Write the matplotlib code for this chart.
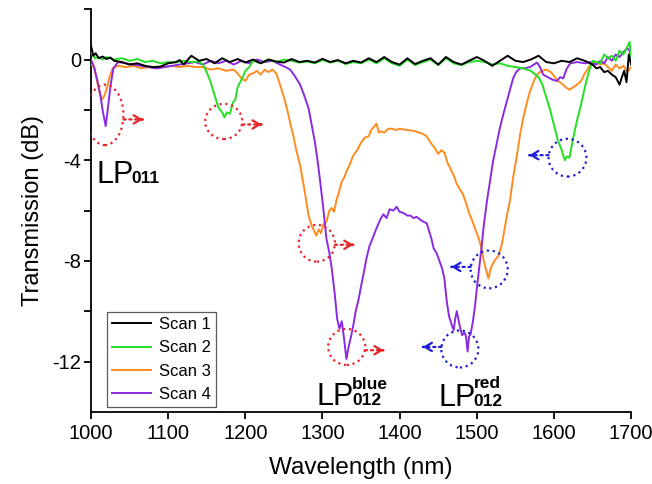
import matplotlib.pyplot as plt
from matplotlib.patches import Ellipse

plt.rcParams['font.family'] = ['Liberation Sans', 'DejaVu Sans']
plt.rcParams['axes.unicode_minus'] = False

# ---- data ----
x_scan1 = [1000, 1003, 1006, 1010, 1015, 1020, 1025, 1030, 1040, 1050, 1060, 1070, 1080, 1090,
           1100, 1110, 1115, 1120, 1130, 1140, 1150, 1160, 1170, 1180, 1190, 1200, 1210, 1220,
           1230, 1240, 1250, 1260, 1270, 1280, 1290, 1300, 1310, 1320, 1330, 1340, 1350, 1360,
           1370, 1380, 1390, 1400, 1410, 1420, 1430, 1440, 1450, 1460, 1470, 1480, 1490, 1500,
           1510, 1520, 1530, 1540, 1550, 1560, 1570, 1580, 1590, 1600, 1610, 1620, 1630, 1640,
           1650, 1655, 1660, 1665, 1670, 1675, 1680, 1685, 1688, 1691, 1694, 1697, 1700]
y_scan1 = [0.55, 0.15, 0.25, 0.05, 0.12, 0.02, 0.08, -0.05, -0.1, -0.2, -0.15, -0.25, -0.3, -0.28,
           -0.15, -0.1, -0.02, -0.2, 0.15, -0.05, 0.02, -0.15, 0.05, -0.1, 0.02, -0.12, 0.0, -0.15,
           0.0, -0.08, -0.12, 0.02, -0.1, -0.05, -0.12, 0.03, -0.1, -0.02, -0.15, -0.05, -0.12, 0.05,
           -0.1, 0.1, -0.1, -0.2, 0.05, -0.18, -0.05, 0.05, -0.2, 0.1, -0.1, -0.2, -0.05, 0.1,
           -0.05, -0.25, -0.05, 0.15, -0.05, -0.1, 0.0, 0.15, -0.1, -0.15, -0.05, -0.1, 0.05, -0.05,
           -0.2, -0.35, -0.3, -0.5, -0.45, -0.6, -0.7, -1.0, -0.7, -0.45, -0.9, 0.2, -0.2]

x_scan2 = [1000, 1005, 1010, 1015, 1020, 1030, 1040, 1050, 1060, 1070, 1080, 1090, 1100, 1110,
           1120, 1130, 1140, 1145, 1150, 1155, 1160, 1165, 1170, 1173, 1176, 1180, 1184, 1187,
           1190, 1195, 1200, 1205, 1210, 1220, 1230, 1240, 1250, 1260, 1270, 1280, 1290, 1300,
           1310, 1320, 1330, 1340, 1350, 1360, 1370, 1380, 1390, 1400, 1410, 1420, 1430, 1440,
           1450, 1460, 1470, 1480, 1490, 1500, 1510, 1520, 1530, 1540, 1550, 1560, 1570, 1580,
           1585, 1590, 1595, 1600, 1605, 1610, 1614, 1617, 1620, 1625, 1630, 1635, 1640, 1645,
           1650, 1655, 1660, 1665, 1670, 1675, 1680, 1685, 1690, 1695, 1698, 1700]
y_scan2 = [0.3, 0.05, 0.1, 0.0, 0.1, 0.0, 0.05, -0.05, 0.02, -0.1, -0.05, -0.15, -0.1, -0.12,
           -0.05, -0.1, -0.08, -0.2, -0.5, -0.9, -1.4, -1.9, -2.1, -2.3, -2.1, -2.15, -1.7, -1.6,
           -1.1, -0.8, -0.45, -0.3, -0.05, -0.15, 0.0, -0.1, 0.0, -0.05, -0.12, -0.08, -0.15, -0.02,
           -0.12, -0.05, -0.18, -0.1, -0.15, 0.0, -0.15, 0.05, -0.15, -0.25, 0.0, -0.22, -0.1, 0.0,
           -0.22, 0.05, -0.15, -0.22, -0.1, -0.05, -0.1, -0.2, -0.15, -0.25, -0.3, -0.35, -0.45, -0.7,
           -1.0, -1.5, -2.0, -2.6, -3.2, -3.6, -4.0, -3.85, -3.9, -3.1, -2.4, -1.8, -1.1, -0.5,
           -0.05, -0.1, -0.15, 0.2, 0.05, 0.15, -0.05, 0.35, 0.2, 0.5, 0.7, 0.0]

x_scan3 = [1000, 1004, 1008, 1011, 1014, 1017, 1020, 1024, 1028, 1035, 1045, 1055, 1065, 1075,
           1085, 1095, 1105, 1115, 1125, 1135, 1145, 1155, 1165, 1175, 1185, 1190, 1195, 1200,
           1205, 1210, 1215, 1220, 1225, 1230, 1235, 1240, 1245, 1250, 1254, 1258, 1262, 1266,
           1271, 1277, 1282, 1286, 1289, 1292, 1295, 1298, 1301, 1305, 1309, 1312, 1315, 1318,
           1322, 1325, 1328, 1331, 1335, 1340, 1345, 1350, 1355, 1360, 1363, 1366, 1370, 1373,
           1376, 1380, 1385, 1390, 1395, 1400, 1405, 1410, 1415, 1420, 1425, 1430, 1435, 1440,
           1445, 1450, 1454, 1458, 1462, 1466, 1470, 1474, 1478, 1482, 1486, 1490, 1494, 1498,
           1502, 1506, 1509, 1512, 1515, 1518, 1521, 1524, 1528, 1532, 1535, 1539, 1543, 1547,
           1552, 1556, 1560, 1565, 1569, 1574, 1578, 1584, 1590, 1596, 1600, 1605, 1610, 1615,
           1620, 1625, 1630, 1635, 1640, 1645, 1650, 1655, 1660, 1665, 1670, 1675, 1680, 1685,
           1690, 1695, 1700]
y_scan3 = [-0.2, -0.3, -0.9, -1.3, -1.6, -1.45, -1.2, -0.7, -0.35, -0.25, -0.3, -0.25, -0.35, -0.3,
           -0.35, -0.3, -0.25, -0.3, -0.25, -0.3, -0.3, -0.4, -0.35, -0.45, -0.4, -0.55, -0.75, -0.85,
           -0.6, -0.55, -0.45, -0.6, -0.4, -0.5, -0.4, -0.55, -1.0, -1.5, -1.95, -2.5, -3.0, -3.6,
           -4.2, -5.25, -6.2, -6.6, -6.8, -7.0, -6.75, -6.9, -6.55, -6.45, -6.0, -5.9, -6.05, -5.6,
           -5.2, -4.85, -4.7, -4.45, -4.2, -3.8, -3.6, -3.3, -3.1, -3.05, -2.8, -2.7, -2.55, -2.9,
           -2.85, -2.9, -2.75, -2.75, -2.8, -2.75, -2.78, -2.8, -2.82, -2.85, -2.9, -2.95, -3.05, -3.3,
           -3.5, -3.75, -3.6, -3.7, -4.1, -4.35, -4.6, -4.95, -5.15, -5.35, -5.7, -6.1, -6.4, -6.75,
           -7.05, -7.5, -8.0, -8.35, -8.7, -8.3, -8.1, -7.95, -7.8, -7.4, -6.9, -6.2, -5.6, -4.7,
           -3.8, -3.0, -2.35, -1.7, -1.25, -0.85, -0.6, -0.45, -0.4, -0.5, -0.65, -0.85, -0.95, -1.1,
           -1.2, -1.1, -1.0, -0.85, -0.55, -0.3, -0.1, -0.1, -0.2, -0.15, -0.3, -0.45, -0.2, -0.35,
           -0.25, -0.5, -0.3]

x_scan4 = [1000, 1004, 1008, 1012, 1015, 1019, 1022, 1025, 1029, 1035, 1045, 1055, 1065, 1075,
           1085, 1095, 1105, 1115, 1125, 1135, 1145, 1155, 1165, 1175, 1185, 1195, 1205, 1215,
           1225, 1235, 1245, 1252, 1258, 1264, 1271, 1276, 1282, 1286, 1290, 1294, 1297, 1301,
           1305, 1309, 1312, 1316, 1319, 1322, 1325, 1328, 1331, 1334, 1337, 1340, 1343, 1347,
           1350, 1353, 1357, 1361, 1365, 1370, 1375, 1379, 1383, 1387, 1392, 1396, 1400, 1405,
           1410, 1414, 1418, 1422, 1426, 1431, 1435, 1438, 1441, 1444, 1448, 1452, 1455, 1458,
           1461, 1464, 1467, 1470, 1472, 1474, 1476, 1478, 1481, 1484, 1486, 1488, 1490, 1492,
           1495, 1498, 1500, 1503, 1506, 1509, 1513, 1517, 1521, 1526, 1530, 1535, 1539, 1543,
           1547, 1551, 1556, 1562, 1569, 1574, 1578, 1582, 1586, 1592, 1598, 1604, 1608, 1612,
           1616, 1621, 1630, 1640, 1647, 1655, 1660, 1665, 1670, 1675, 1680, 1685, 1690, 1695,
           1698, 1700]
y_scan4 = [0.0, -0.3, -0.8, -1.4, -2.0, -2.65, -1.9, -1.1, -0.35, -0.1, -0.15, -0.2, -0.25, -0.3,
           -0.35, -0.3, -0.25, -0.2, -0.15, -0.1, -0.2, -0.05, -0.15, -0.05, -0.2, -0.05, -0.15, 0.0,
           -0.1, -0.05, -0.2, -0.3, -0.4, -0.65, -1.0, -1.4, -1.95, -2.6, -3.25, -4.1, -4.85, -5.9,
           -7.1, -7.7, -8.3, -9.35, -10.3, -10.7, -10.4, -11.1, -11.9, -11.4, -11.0, -10.55, -10.0, -9.5,
           -9.0, -8.55, -7.9, -7.4, -7.1, -6.7, -6.35, -6.15, -6.3, -5.95, -6.0, -5.85, -6.05, -6.1,
           -6.2, -6.2, -6.3, -6.25, -6.35, -6.45, -6.5, -6.8, -7.1, -7.5, -7.7, -8.05, -8.3, -8.7,
           -9.6, -10.2, -10.5, -10.75, -10.3, -10.0, -10.3, -10.6, -10.95, -10.85, -11.0, -11.6, -11.0, -10.9,
           -10.4, -9.7, -9.1, -8.3, -7.5, -6.6, -5.65, -4.85, -4.05, -3.3, -2.7, -2.1, -1.65, -1.2,
           -0.75, -0.5, -0.35, -0.35, -0.3, -0.2, -0.12, -0.3, -0.6, -0.7, -0.8, -0.85, -0.7, -0.75,
           -0.4, -0.15, -0.1, -0.15, -0.1, -0.2, -0.05, -0.15, 0.1, -0.05, 0.2, 0.1, 0.3, 0.45,
           0.35, 0.1]

# circled features: (center wavelength, center dB, width nm, height dB)
red_circles = [(1018, -2.2, 48, 2.4), (1172, -2.46, 48, 1.4),
               (1292.6, -7.3, 47, 1.46), (1331.4, -11.42, 48, 1.43)]
blue_circles = [(1478, -11.5, 48, 1.47), (1516, -8.34, 48, 1.5), (1617.5, -3.9, 49, 1.5)]
# dotted arrows: (start, end, dB)
red_arrows = [(1042, 1067, -2.38), (1196, 1221, -2.58), (1316, 1340, -7.36), (1355, 1379, -11.55)]
blue_arrows = [(1454, 1430, -11.42), (1492, 1467, -8.24), (1593, 1568, -3.8)]

c_red = '#e8262a'
c_blue = '#1f1fd6'

fig = plt.figure(figsize=(6.52, 4.84), dpi=100)
ax = fig.add_axes([0.1396, 0.149, 0.8284, 0.832])

ax.plot(x_scan1, y_scan1, color='black', lw=1.4, label='Scan 1', zorder=5)
ax.plot(x_scan2, y_scan2, color='#22e022', lw=1.4, label='Scan 2', zorder=4)
ax.plot(x_scan3, y_scan3, color='#ff8c1f', lw=1.4, label='Scan 3', zorder=3)
ax.plot(x_scan4, y_scan4, color='#8a2be2', lw=1.4, label='Scan 4', zorder=3.5)

for cx, cy, w, h in red_circles:
    ax.add_patch(Ellipse((cx, cy), w, h, fill=False, ls=':', ec=c_red, lw=1.6, zorder=6))
for cx, cy, w, h in blue_circles:
    ax.add_patch(Ellipse((cx, cy), w, h, fill=False, ls=':', ec=c_blue, lw=1.6, zorder=6))

for arrows, col in [(red_arrows, c_red), (blue_arrows, c_blue)]:
    for x0, x1, yy in arrows:
        ax.annotate('', xy=(x1, yy), xytext=(x0, yy),
                    arrowprops=dict(arrowstyle='-', ls=':', color=col, lw=1.6,
                                    shrinkA=0, shrinkB=0), zorder=6)
        step = 1 if x1 > x0 else -1
        ax.annotate('', xy=(x1, yy), xytext=(x1 - step, yy),
                    arrowprops=dict(arrowstyle='->,head_length=0.5,head_width=0.3',
                                    color=col, lw=1.6, shrinkA=0, shrinkB=0), zorder=6)

# mode labels
ax.text(1006.5, -4.89, 'LP', fontsize=22, va='baseline', ha='left')
ax.text(1052, -4.89, '011', fontsize=12.5, weight='bold', va='baseline', ha='left')
ax.text(1292.5, -13.72, 'LP', fontsize=22, va='baseline', ha='left')
ax.text(1338.5, -13.72, '012', fontsize=12.5, weight='bold', va='baseline', ha='left')
ax.text(1338.5, -12.6, 'blue', fontsize=12.5, weight='bold', va='top', ha='left')
ax.text(1449.8, -13.75, 'LP', fontsize=22, va='baseline', ha='left')
ax.text(1495.2, -13.75, '012', fontsize=12.5, weight='bold', va='baseline', ha='left')
ax.text(1496.5, -12.58, 'red', fontsize=12.5, weight='bold', va='top', ha='left')

ax.set_xlim(1000, 1700)
ax.set_ylim(-14, 2)
ax.set_xticks(range(1000, 1701, 100))
ax.set_yticks([0, -4, -8, -12])
ax.set_yticks([2, -2, -6, -10], minor=True)
ax.spines['top'].set_visible(False)
ax.spines['right'].set_visible(False)
ax.spines['left'].set_linewidth(1.3)
ax.spines['bottom'].set_linewidth(1.3)
ax.tick_params(which='both', direction='out', length=5, width=1.3, labelsize=14.5)
ax.tick_params(axis='y', pad=2)
ax.tick_params(axis='x', pad=4)

ax.set_xlabel('Wavelength (nm)', fontsize=17.5, labelpad=10)
ax.set_ylabel('Transmission (dB)', fontsize=17, labelpad=6)

leg = ax.legend(loc='lower left', bbox_to_anchor=(0.03, 0.012), borderaxespad=0,
                fontsize=12, handlelength=2.3, labelspacing=0.5, borderpad=0.3,
                handletextpad=0.5, fancybox=False, frameon=True)
leg.get_frame().set_edgecolor('#333333')
leg.get_frame().set_linewidth(0.9)

fig.savefig('out.png', dpi=100)
